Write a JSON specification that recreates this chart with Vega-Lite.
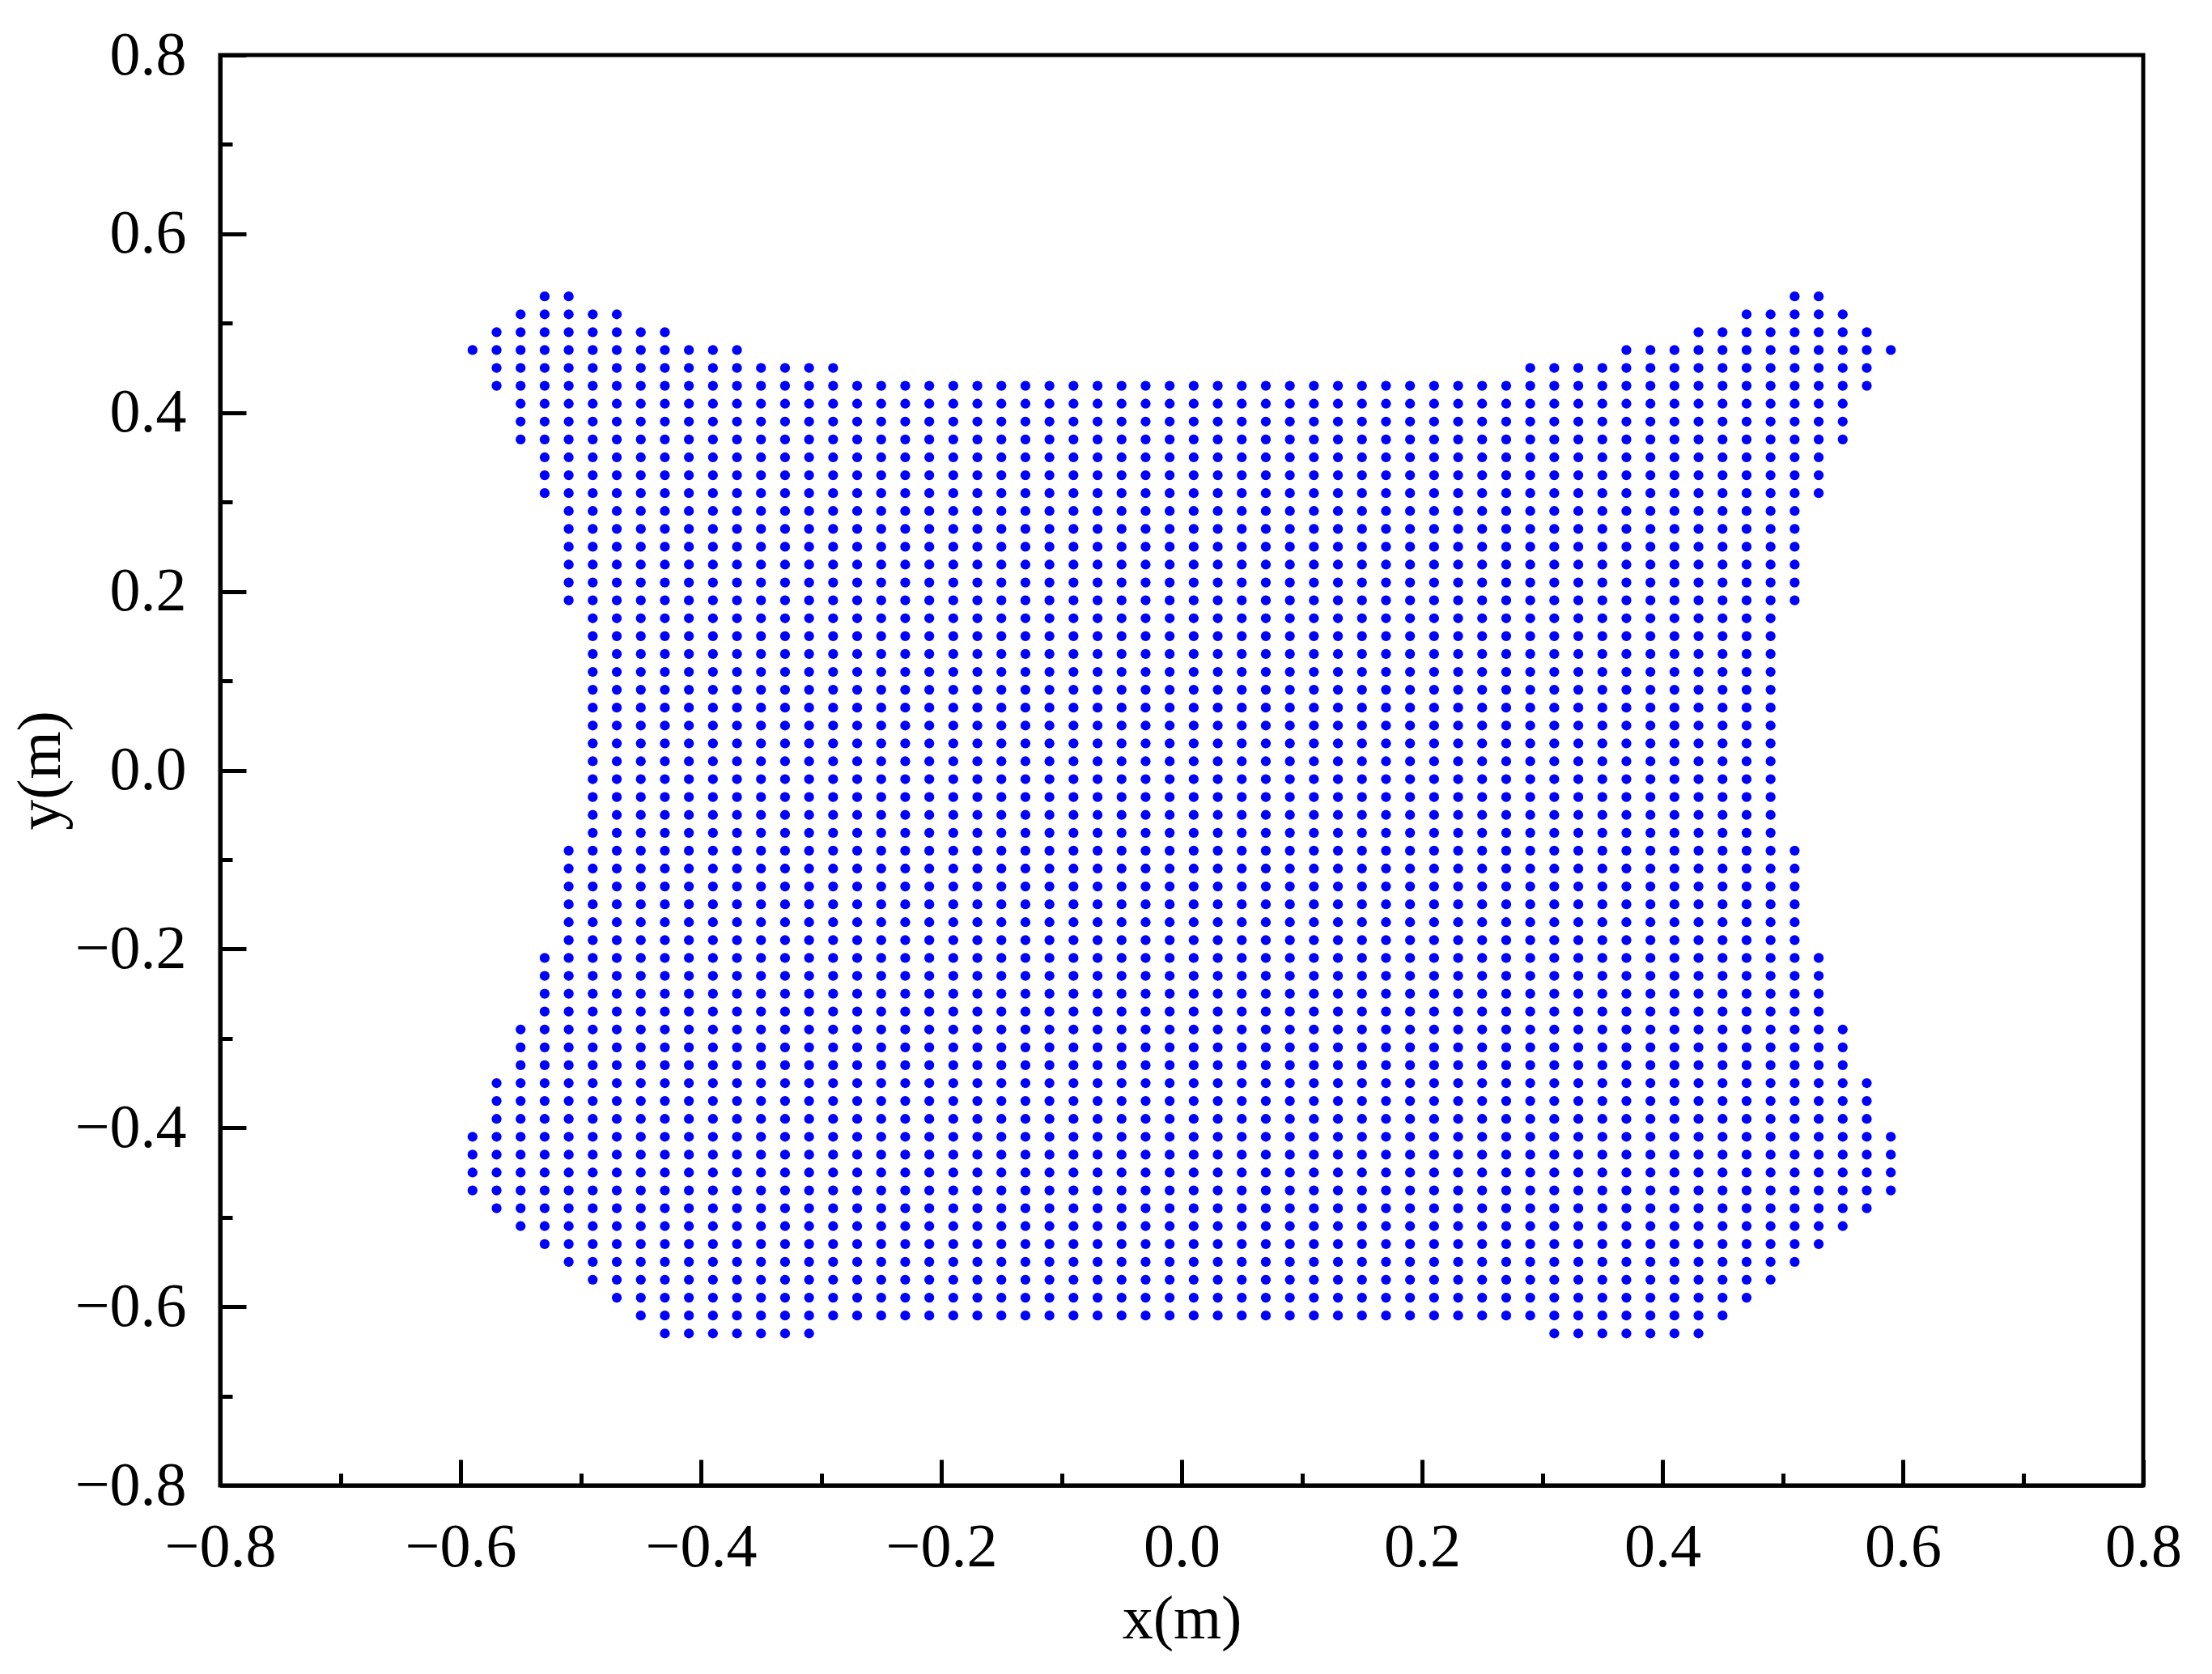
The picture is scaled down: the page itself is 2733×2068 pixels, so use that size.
{
"$schema": "https://vega.github.io/schema/vega-lite/v6.json",
"width": 2376,
"height": 1767,
"autosize": {"type": "none"},
"padding": {"left": 272, "top": 68, "right": 85, "bottom": 233},
"background": "white",
"config": {"view": {"stroke": "black", "strokeWidth": 5}, "font": "Liberation Serif"},
"data": {"values": [
{"x": -0.59, "y": [0.47,-0.41,-0.43,-0.45,-0.47]},
{"x": -0.57, "y": [0.49,0.47,0.45,0.43,-0.35,-0.37,-0.39,-0.41,-0.43,-0.45,-0.47,-0.49]},
{"x": -0.55, "y": [0.51,0.49,0.47,0.45,0.43,0.41,0.39,0.37,-0.29,-0.31,-0.33,-0.35,-0.37,-0.39,-0.41,-0.43,-0.45,-0.47,-0.49,-0.51]},
{"x": -0.53, "y": [0.53,0.51,0.49,0.47,0.45,0.43,0.41,0.39,0.37,0.35,0.33,0.31,-0.21,-0.23,-0.25,-0.27,-0.29,-0.31,-0.33,-0.35,-0.37,-0.39,-0.41,-0.43,-0.45,-0.47,-0.49,-0.51,-0.53]},
{"x": -0.51, "y": [0.53,0.51,0.49,0.47,0.45,0.43,0.41,0.39,0.37,0.35,0.33,0.31,0.29,0.27,0.25,0.23,0.21,0.19,-0.09,-0.11,-0.13,-0.15,-0.17,-0.19,-0.21,-0.23,-0.25,-0.27,-0.29,-0.31,-0.33,-0.35,-0.37,-0.39,-0.41,-0.43,-0.45,-0.47,-0.49,-0.51,-0.53,-0.55]},
{"x": -0.49, "y": [0.51,0.49,0.47,0.45,0.43,0.41,0.39,0.37,0.35,0.33,0.31,0.29,0.27,0.25,0.23,0.21,0.19,0.17,0.15,0.13,0.11,0.09,0.07,0.05,0.03,0.01,-0.01,-0.03,-0.05,-0.07,-0.09,-0.11,-0.13,-0.15,-0.17,-0.19,-0.21,-0.23,-0.25,-0.27,-0.29,-0.31,-0.33,-0.35,-0.37,-0.39,-0.41,-0.43,-0.45,-0.47,-0.49,-0.51,-0.53,-0.55,-0.57]},
{"x": -0.47, "y": [0.51,0.49,0.47,0.45,0.43,0.41,0.39,0.37,0.35,0.33,0.31,0.29,0.27,0.25,0.23,0.21,0.19,0.17,0.15,0.13,0.11,0.09,0.07,0.05,0.03,0.01,-0.01,-0.03,-0.05,-0.07,-0.09,-0.11,-0.13,-0.15,-0.17,-0.19,-0.21,-0.23,-0.25,-0.27,-0.29,-0.31,-0.33,-0.35,-0.37,-0.39,-0.41,-0.43,-0.45,-0.47,-0.49,-0.51,-0.53,-0.55,-0.57,-0.59]},
{"x": -0.45, "y": [0.49,0.47,0.45,0.43,0.41,0.39,0.37,0.35,0.33,0.31,0.29,0.27,0.25,0.23,0.21,0.19,0.17,0.15,0.13,0.11,0.09,0.07,0.05,0.03,0.01,-0.01,-0.03,-0.05,-0.07,-0.09,-0.11,-0.13,-0.15,-0.17,-0.19,-0.21,-0.23,-0.25,-0.27,-0.29,-0.31,-0.33,-0.35,-0.37,-0.39,-0.41,-0.43,-0.45,-0.47,-0.49,-0.51,-0.53,-0.55,-0.57,-0.59,-0.61]},
{"x": -0.43, "y": [0.49,0.47,0.45,0.43,0.41,0.39,0.37,0.35,0.33,0.31,0.29,0.27,0.25,0.23,0.21,0.19,0.17,0.15,0.13,0.11,0.09,0.07,0.05,0.03,0.01,-0.01,-0.03,-0.05,-0.07,-0.09,-0.11,-0.13,-0.15,-0.17,-0.19,-0.21,-0.23,-0.25,-0.27,-0.29,-0.31,-0.33,-0.35,-0.37,-0.39,-0.41,-0.43,-0.45,-0.47,-0.49,-0.51,-0.53,-0.55,-0.57,-0.59,-0.61,-0.63]},
{"x": -0.41, "y": [0.47,0.45,0.43,0.41,0.39,0.37,0.35,0.33,0.31,0.29,0.27,0.25,0.23,0.21,0.19,0.17,0.15,0.13,0.11,0.09,0.07,0.05,0.03,0.01,-0.01,-0.03,-0.05,-0.07,-0.09,-0.11,-0.13,-0.15,-0.17,-0.19,-0.21,-0.23,-0.25,-0.27,-0.29,-0.31,-0.33,-0.35,-0.37,-0.39,-0.41,-0.43,-0.45,-0.47,-0.49,-0.51,-0.53,-0.55,-0.57,-0.59,-0.61,-0.63]},
{"x": -0.39, "y": [0.47,0.45,0.43,0.41,0.39,0.37,0.35,0.33,0.31,0.29,0.27,0.25,0.23,0.21,0.19,0.17,0.15,0.13,0.11,0.09,0.07,0.05,0.03,0.01,-0.01,-0.03,-0.05,-0.07,-0.09,-0.11,-0.13,-0.15,-0.17,-0.19,-0.21,-0.23,-0.25,-0.27,-0.29,-0.31,-0.33,-0.35,-0.37,-0.39,-0.41,-0.43,-0.45,-0.47,-0.49,-0.51,-0.53,-0.55,-0.57,-0.59,-0.61,-0.63]},
{"x": -0.37, "y": [0.47,0.45,0.43,0.41,0.39,0.37,0.35,0.33,0.31,0.29,0.27,0.25,0.23,0.21,0.19,0.17,0.15,0.13,0.11,0.09,0.07,0.05,0.03,0.01,-0.01,-0.03,-0.05,-0.07,-0.09,-0.11,-0.13,-0.15,-0.17,-0.19,-0.21,-0.23,-0.25,-0.27,-0.29,-0.31,-0.33,-0.35,-0.37,-0.39,-0.41,-0.43,-0.45,-0.47,-0.49,-0.51,-0.53,-0.55,-0.57,-0.59,-0.61,-0.63]},
{"x": -0.35, "y": [0.45,0.43,0.41,0.39,0.37,0.35,0.33,0.31,0.29,0.27,0.25,0.23,0.21,0.19,0.17,0.15,0.13,0.11,0.09,0.07,0.05,0.03,0.01,-0.01,-0.03,-0.05,-0.07,-0.09,-0.11,-0.13,-0.15,-0.17,-0.19,-0.21,-0.23,-0.25,-0.27,-0.29,-0.31,-0.33,-0.35,-0.37,-0.39,-0.41,-0.43,-0.45,-0.47,-0.49,-0.51,-0.53,-0.55,-0.57,-0.59,-0.61,-0.63]},
{"x": -0.33, "y": [0.45,0.43,0.41,0.39,0.37,0.35,0.33,0.31,0.29,0.27,0.25,0.23,0.21,0.19,0.17,0.15,0.13,0.11,0.09,0.07,0.05,0.03,0.01,-0.01,-0.03,-0.05,-0.07,-0.09,-0.11,-0.13,-0.15,-0.17,-0.19,-0.21,-0.23,-0.25,-0.27,-0.29,-0.31,-0.33,-0.35,-0.37,-0.39,-0.41,-0.43,-0.45,-0.47,-0.49,-0.51,-0.53,-0.55,-0.57,-0.59,-0.61,-0.63]},
{"x": -0.31, "y": [0.45,0.43,0.41,0.39,0.37,0.35,0.33,0.31,0.29,0.27,0.25,0.23,0.21,0.19,0.17,0.15,0.13,0.11,0.09,0.07,0.05,0.03,0.01,-0.01,-0.03,-0.05,-0.07,-0.09,-0.11,-0.13,-0.15,-0.17,-0.19,-0.21,-0.23,-0.25,-0.27,-0.29,-0.31,-0.33,-0.35,-0.37,-0.39,-0.41,-0.43,-0.45,-0.47,-0.49,-0.51,-0.53,-0.55,-0.57,-0.59,-0.61,-0.63]},
{"x": -0.29, "y": [0.45,0.43,0.41,0.39,0.37,0.35,0.33,0.31,0.29,0.27,0.25,0.23,0.21,0.19,0.17,0.15,0.13,0.11,0.09,0.07,0.05,0.03,0.01,-0.01,-0.03,-0.05,-0.07,-0.09,-0.11,-0.13,-0.15,-0.17,-0.19,-0.21,-0.23,-0.25,-0.27,-0.29,-0.31,-0.33,-0.35,-0.37,-0.39,-0.41,-0.43,-0.45,-0.47,-0.49,-0.51,-0.53,-0.55,-0.57,-0.59,-0.61]},
{"x": -0.27, "y": [0.43,0.41,0.39,0.37,0.35,0.33,0.31,0.29,0.27,0.25,0.23,0.21,0.19,0.17,0.15,0.13,0.11,0.09,0.07,0.05,0.03,0.01,-0.01,-0.03,-0.05,-0.07,-0.09,-0.11,-0.13,-0.15,-0.17,-0.19,-0.21,-0.23,-0.25,-0.27,-0.29,-0.31,-0.33,-0.35,-0.37,-0.39,-0.41,-0.43,-0.45,-0.47,-0.49,-0.51,-0.53,-0.55,-0.57,-0.59,-0.61]},
{"x": -0.25, "y": [0.43,0.41,0.39,0.37,0.35,0.33,0.31,0.29,0.27,0.25,0.23,0.21,0.19,0.17,0.15,0.13,0.11,0.09,0.07,0.05,0.03,0.01,-0.01,-0.03,-0.05,-0.07,-0.09,-0.11,-0.13,-0.15,-0.17,-0.19,-0.21,-0.23,-0.25,-0.27,-0.29,-0.31,-0.33,-0.35,-0.37,-0.39,-0.41,-0.43,-0.45,-0.47,-0.49,-0.51,-0.53,-0.55,-0.57,-0.59,-0.61]},
{"x": -0.23, "y": [0.43,0.41,0.39,0.37,0.35,0.33,0.31,0.29,0.27,0.25,0.23,0.21,0.19,0.17,0.15,0.13,0.11,0.09,0.07,0.05,0.03,0.01,-0.01,-0.03,-0.05,-0.07,-0.09,-0.11,-0.13,-0.15,-0.17,-0.19,-0.21,-0.23,-0.25,-0.27,-0.29,-0.31,-0.33,-0.35,-0.37,-0.39,-0.41,-0.43,-0.45,-0.47,-0.49,-0.51,-0.53,-0.55,-0.57,-0.59,-0.61]},
{"x": -0.21, "y": [0.43,0.41,0.39,0.37,0.35,0.33,0.31,0.29,0.27,0.25,0.23,0.21,0.19,0.17,0.15,0.13,0.11,0.09,0.07,0.05,0.03,0.01,-0.01,-0.03,-0.05,-0.07,-0.09,-0.11,-0.13,-0.15,-0.17,-0.19,-0.21,-0.23,-0.25,-0.27,-0.29,-0.31,-0.33,-0.35,-0.37,-0.39,-0.41,-0.43,-0.45,-0.47,-0.49,-0.51,-0.53,-0.55,-0.57,-0.59,-0.61]},
{"x": -0.19, "y": [0.43,0.41,0.39,0.37,0.35,0.33,0.31,0.29,0.27,0.25,0.23,0.21,0.19,0.17,0.15,0.13,0.11,0.09,0.07,0.05,0.03,0.01,-0.01,-0.03,-0.05,-0.07,-0.09,-0.11,-0.13,-0.15,-0.17,-0.19,-0.21,-0.23,-0.25,-0.27,-0.29,-0.31,-0.33,-0.35,-0.37,-0.39,-0.41,-0.43,-0.45,-0.47,-0.49,-0.51,-0.53,-0.55,-0.57,-0.59,-0.61]},
{"x": -0.17, "y": [0.43,0.41,0.39,0.37,0.35,0.33,0.31,0.29,0.27,0.25,0.23,0.21,0.19,0.17,0.15,0.13,0.11,0.09,0.07,0.05,0.03,0.01,-0.01,-0.03,-0.05,-0.07,-0.09,-0.11,-0.13,-0.15,-0.17,-0.19,-0.21,-0.23,-0.25,-0.27,-0.29,-0.31,-0.33,-0.35,-0.37,-0.39,-0.41,-0.43,-0.45,-0.47,-0.49,-0.51,-0.53,-0.55,-0.57,-0.59,-0.61]},
{"x": -0.15, "y": [0.43,0.41,0.39,0.37,0.35,0.33,0.31,0.29,0.27,0.25,0.23,0.21,0.19,0.17,0.15,0.13,0.11,0.09,0.07,0.05,0.03,0.01,-0.01,-0.03,-0.05,-0.07,-0.09,-0.11,-0.13,-0.15,-0.17,-0.19,-0.21,-0.23,-0.25,-0.27,-0.29,-0.31,-0.33,-0.35,-0.37,-0.39,-0.41,-0.43,-0.45,-0.47,-0.49,-0.51,-0.53,-0.55,-0.57,-0.59,-0.61]},
{"x": -0.13, "y": [0.43,0.41,0.39,0.37,0.35,0.33,0.31,0.29,0.27,0.25,0.23,0.21,0.19,0.17,0.15,0.13,0.11,0.09,0.07,0.05,0.03,0.01,-0.01,-0.03,-0.05,-0.07,-0.09,-0.11,-0.13,-0.15,-0.17,-0.19,-0.21,-0.23,-0.25,-0.27,-0.29,-0.31,-0.33,-0.35,-0.37,-0.39,-0.41,-0.43,-0.45,-0.47,-0.49,-0.51,-0.53,-0.55,-0.57,-0.59,-0.61]},
{"x": -0.11, "y": [0.43,0.41,0.39,0.37,0.35,0.33,0.31,0.29,0.27,0.25,0.23,0.21,0.19,0.17,0.15,0.13,0.11,0.09,0.07,0.05,0.03,0.01,-0.01,-0.03,-0.05,-0.07,-0.09,-0.11,-0.13,-0.15,-0.17,-0.19,-0.21,-0.23,-0.25,-0.27,-0.29,-0.31,-0.33,-0.35,-0.37,-0.39,-0.41,-0.43,-0.45,-0.47,-0.49,-0.51,-0.53,-0.55,-0.57,-0.59,-0.61]},
{"x": -0.09, "y": [0.43,0.41,0.39,0.37,0.35,0.33,0.31,0.29,0.27,0.25,0.23,0.21,0.19,0.17,0.15,0.13,0.11,0.09,0.07,0.05,0.03,0.01,-0.01,-0.03,-0.05,-0.07,-0.09,-0.11,-0.13,-0.15,-0.17,-0.19,-0.21,-0.23,-0.25,-0.27,-0.29,-0.31,-0.33,-0.35,-0.37,-0.39,-0.41,-0.43,-0.45,-0.47,-0.49,-0.51,-0.53,-0.55,-0.57,-0.59,-0.61]},
{"x": -0.07, "y": [0.43,0.41,0.39,0.37,0.35,0.33,0.31,0.29,0.27,0.25,0.23,0.21,0.19,0.17,0.15,0.13,0.11,0.09,0.07,0.05,0.03,0.01,-0.01,-0.03,-0.05,-0.07,-0.09,-0.11,-0.13,-0.15,-0.17,-0.19,-0.21,-0.23,-0.25,-0.27,-0.29,-0.31,-0.33,-0.35,-0.37,-0.39,-0.41,-0.43,-0.45,-0.47,-0.49,-0.51,-0.53,-0.55,-0.57,-0.59,-0.61]},
{"x": -0.05, "y": [0.43,0.41,0.39,0.37,0.35,0.33,0.31,0.29,0.27,0.25,0.23,0.21,0.19,0.17,0.15,0.13,0.11,0.09,0.07,0.05,0.03,0.01,-0.01,-0.03,-0.05,-0.07,-0.09,-0.11,-0.13,-0.15,-0.17,-0.19,-0.21,-0.23,-0.25,-0.27,-0.29,-0.31,-0.33,-0.35,-0.37,-0.39,-0.41,-0.43,-0.45,-0.47,-0.49,-0.51,-0.53,-0.55,-0.57,-0.59,-0.61]},
{"x": -0.03, "y": [0.43,0.41,0.39,0.37,0.35,0.33,0.31,0.29,0.27,0.25,0.23,0.21,0.19,0.17,0.15,0.13,0.11,0.09,0.07,0.05,0.03,0.01,-0.01,-0.03,-0.05,-0.07,-0.09,-0.11,-0.13,-0.15,-0.17,-0.19,-0.21,-0.23,-0.25,-0.27,-0.29,-0.31,-0.33,-0.35,-0.37,-0.39,-0.41,-0.43,-0.45,-0.47,-0.49,-0.51,-0.53,-0.55,-0.57,-0.59,-0.61]},
{"x": -0.01, "y": [0.43,0.41,0.39,0.37,0.35,0.33,0.31,0.29,0.27,0.25,0.23,0.21,0.19,0.17,0.15,0.13,0.11,0.09,0.07,0.05,0.03,0.01,-0.01,-0.03,-0.05,-0.07,-0.09,-0.11,-0.13,-0.15,-0.17,-0.19,-0.21,-0.23,-0.25,-0.27,-0.29,-0.31,-0.33,-0.35,-0.37,-0.39,-0.41,-0.43,-0.45,-0.47,-0.49,-0.51,-0.53,-0.55,-0.57,-0.59,-0.61]},
{"x": 0.01, "y": [0.43,0.41,0.39,0.37,0.35,0.33,0.31,0.29,0.27,0.25,0.23,0.21,0.19,0.17,0.15,0.13,0.11,0.09,0.07,0.05,0.03,0.01,-0.01,-0.03,-0.05,-0.07,-0.09,-0.11,-0.13,-0.15,-0.17,-0.19,-0.21,-0.23,-0.25,-0.27,-0.29,-0.31,-0.33,-0.35,-0.37,-0.39,-0.41,-0.43,-0.45,-0.47,-0.49,-0.51,-0.53,-0.55,-0.57,-0.59,-0.61]},
{"x": 0.03, "y": [0.43,0.41,0.39,0.37,0.35,0.33,0.31,0.29,0.27,0.25,0.23,0.21,0.19,0.17,0.15,0.13,0.11,0.09,0.07,0.05,0.03,0.01,-0.01,-0.03,-0.05,-0.07,-0.09,-0.11,-0.13,-0.15,-0.17,-0.19,-0.21,-0.23,-0.25,-0.27,-0.29,-0.31,-0.33,-0.35,-0.37,-0.39,-0.41,-0.43,-0.45,-0.47,-0.49,-0.51,-0.53,-0.55,-0.57,-0.59,-0.61]},
{"x": 0.05, "y": [0.43,0.41,0.39,0.37,0.35,0.33,0.31,0.29,0.27,0.25,0.23,0.21,0.19,0.17,0.15,0.13,0.11,0.09,0.07,0.05,0.03,0.01,-0.01,-0.03,-0.05,-0.07,-0.09,-0.11,-0.13,-0.15,-0.17,-0.19,-0.21,-0.23,-0.25,-0.27,-0.29,-0.31,-0.33,-0.35,-0.37,-0.39,-0.41,-0.43,-0.45,-0.47,-0.49,-0.51,-0.53,-0.55,-0.57,-0.59,-0.61]},
{"x": 0.07, "y": [0.43,0.41,0.39,0.37,0.35,0.33,0.31,0.29,0.27,0.25,0.23,0.21,0.19,0.17,0.15,0.13,0.11,0.09,0.07,0.05,0.03,0.01,-0.01,-0.03,-0.05,-0.07,-0.09,-0.11,-0.13,-0.15,-0.17,-0.19,-0.21,-0.23,-0.25,-0.27,-0.29,-0.31,-0.33,-0.35,-0.37,-0.39,-0.41,-0.43,-0.45,-0.47,-0.49,-0.51,-0.53,-0.55,-0.57,-0.59,-0.61]},
{"x": 0.09, "y": [0.43,0.41,0.39,0.37,0.35,0.33,0.31,0.29,0.27,0.25,0.23,0.21,0.19,0.17,0.15,0.13,0.11,0.09,0.07,0.05,0.03,0.01,-0.01,-0.03,-0.05,-0.07,-0.09,-0.11,-0.13,-0.15,-0.17,-0.19,-0.21,-0.23,-0.25,-0.27,-0.29,-0.31,-0.33,-0.35,-0.37,-0.39,-0.41,-0.43,-0.45,-0.47,-0.49,-0.51,-0.53,-0.55,-0.57,-0.59,-0.61]},
{"x": 0.11, "y": [0.43,0.41,0.39,0.37,0.35,0.33,0.31,0.29,0.27,0.25,0.23,0.21,0.19,0.17,0.15,0.13,0.11,0.09,0.07,0.05,0.03,0.01,-0.01,-0.03,-0.05,-0.07,-0.09,-0.11,-0.13,-0.15,-0.17,-0.19,-0.21,-0.23,-0.25,-0.27,-0.29,-0.31,-0.33,-0.35,-0.37,-0.39,-0.41,-0.43,-0.45,-0.47,-0.49,-0.51,-0.53,-0.55,-0.57,-0.59,-0.61]},
{"x": 0.13, "y": [0.43,0.41,0.39,0.37,0.35,0.33,0.31,0.29,0.27,0.25,0.23,0.21,0.19,0.17,0.15,0.13,0.11,0.09,0.07,0.05,0.03,0.01,-0.01,-0.03,-0.05,-0.07,-0.09,-0.11,-0.13,-0.15,-0.17,-0.19,-0.21,-0.23,-0.25,-0.27,-0.29,-0.31,-0.33,-0.35,-0.37,-0.39,-0.41,-0.43,-0.45,-0.47,-0.49,-0.51,-0.53,-0.55,-0.57,-0.59,-0.61]},
{"x": 0.15, "y": [0.43,0.41,0.39,0.37,0.35,0.33,0.31,0.29,0.27,0.25,0.23,0.21,0.19,0.17,0.15,0.13,0.11,0.09,0.07,0.05,0.03,0.01,-0.01,-0.03,-0.05,-0.07,-0.09,-0.11,-0.13,-0.15,-0.17,-0.19,-0.21,-0.23,-0.25,-0.27,-0.29,-0.31,-0.33,-0.35,-0.37,-0.39,-0.41,-0.43,-0.45,-0.47,-0.49,-0.51,-0.53,-0.55,-0.57,-0.59,-0.61]},
{"x": 0.17, "y": [0.43,0.41,0.39,0.37,0.35,0.33,0.31,0.29,0.27,0.25,0.23,0.21,0.19,0.17,0.15,0.13,0.11,0.09,0.07,0.05,0.03,0.01,-0.01,-0.03,-0.05,-0.07,-0.09,-0.11,-0.13,-0.15,-0.17,-0.19,-0.21,-0.23,-0.25,-0.27,-0.29,-0.31,-0.33,-0.35,-0.37,-0.39,-0.41,-0.43,-0.45,-0.47,-0.49,-0.51,-0.53,-0.55,-0.57,-0.59,-0.61]},
{"x": 0.19, "y": [0.43,0.41,0.39,0.37,0.35,0.33,0.31,0.29,0.27,0.25,0.23,0.21,0.19,0.17,0.15,0.13,0.11,0.09,0.07,0.05,0.03,0.01,-0.01,-0.03,-0.05,-0.07,-0.09,-0.11,-0.13,-0.15,-0.17,-0.19,-0.21,-0.23,-0.25,-0.27,-0.29,-0.31,-0.33,-0.35,-0.37,-0.39,-0.41,-0.43,-0.45,-0.47,-0.49,-0.51,-0.53,-0.55,-0.57,-0.59,-0.61]},
{"x": 0.21, "y": [0.43,0.41,0.39,0.37,0.35,0.33,0.31,0.29,0.27,0.25,0.23,0.21,0.19,0.17,0.15,0.13,0.11,0.09,0.07,0.05,0.03,0.01,-0.01,-0.03,-0.05,-0.07,-0.09,-0.11,-0.13,-0.15,-0.17,-0.19,-0.21,-0.23,-0.25,-0.27,-0.29,-0.31,-0.33,-0.35,-0.37,-0.39,-0.41,-0.43,-0.45,-0.47,-0.49,-0.51,-0.53,-0.55,-0.57,-0.59,-0.61]},
{"x": 0.23, "y": [0.43,0.41,0.39,0.37,0.35,0.33,0.31,0.29,0.27,0.25,0.23,0.21,0.19,0.17,0.15,0.13,0.11,0.09,0.07,0.05,0.03,0.01,-0.01,-0.03,-0.05,-0.07,-0.09,-0.11,-0.13,-0.15,-0.17,-0.19,-0.21,-0.23,-0.25,-0.27,-0.29,-0.31,-0.33,-0.35,-0.37,-0.39,-0.41,-0.43,-0.45,-0.47,-0.49,-0.51,-0.53,-0.55,-0.57,-0.59,-0.61]},
{"x": 0.25, "y": [0.43,0.41,0.39,0.37,0.35,0.33,0.31,0.29,0.27,0.25,0.23,0.21,0.19,0.17,0.15,0.13,0.11,0.09,0.07,0.05,0.03,0.01,-0.01,-0.03,-0.05,-0.07,-0.09,-0.11,-0.13,-0.15,-0.17,-0.19,-0.21,-0.23,-0.25,-0.27,-0.29,-0.31,-0.33,-0.35,-0.37,-0.39,-0.41,-0.43,-0.45,-0.47,-0.49,-0.51,-0.53,-0.55,-0.57,-0.59,-0.61]},
{"x": 0.27, "y": [0.43,0.41,0.39,0.37,0.35,0.33,0.31,0.29,0.27,0.25,0.23,0.21,0.19,0.17,0.15,0.13,0.11,0.09,0.07,0.05,0.03,0.01,-0.01,-0.03,-0.05,-0.07,-0.09,-0.11,-0.13,-0.15,-0.17,-0.19,-0.21,-0.23,-0.25,-0.27,-0.29,-0.31,-0.33,-0.35,-0.37,-0.39,-0.41,-0.43,-0.45,-0.47,-0.49,-0.51,-0.53,-0.55,-0.57,-0.59,-0.61]},
{"x": 0.29, "y": [0.45,0.43,0.41,0.39,0.37,0.35,0.33,0.31,0.29,0.27,0.25,0.23,0.21,0.19,0.17,0.15,0.13,0.11,0.09,0.07,0.05,0.03,0.01,-0.01,-0.03,-0.05,-0.07,-0.09,-0.11,-0.13,-0.15,-0.17,-0.19,-0.21,-0.23,-0.25,-0.27,-0.29,-0.31,-0.33,-0.35,-0.37,-0.39,-0.41,-0.43,-0.45,-0.47,-0.49,-0.51,-0.53,-0.55,-0.57,-0.59,-0.61]},
{"x": 0.31, "y": [0.45,0.43,0.41,0.39,0.37,0.35,0.33,0.31,0.29,0.27,0.25,0.23,0.21,0.19,0.17,0.15,0.13,0.11,0.09,0.07,0.05,0.03,0.01,-0.01,-0.03,-0.05,-0.07,-0.09,-0.11,-0.13,-0.15,-0.17,-0.19,-0.21,-0.23,-0.25,-0.27,-0.29,-0.31,-0.33,-0.35,-0.37,-0.39,-0.41,-0.43,-0.45,-0.47,-0.49,-0.51,-0.53,-0.55,-0.57,-0.59,-0.61,-0.63]},
{"x": 0.33, "y": [0.45,0.43,0.41,0.39,0.37,0.35,0.33,0.31,0.29,0.27,0.25,0.23,0.21,0.19,0.17,0.15,0.13,0.11,0.09,0.07,0.05,0.03,0.01,-0.01,-0.03,-0.05,-0.07,-0.09,-0.11,-0.13,-0.15,-0.17,-0.19,-0.21,-0.23,-0.25,-0.27,-0.29,-0.31,-0.33,-0.35,-0.37,-0.39,-0.41,-0.43,-0.45,-0.47,-0.49,-0.51,-0.53,-0.55,-0.57,-0.59,-0.61,-0.63]},
{"x": 0.35, "y": [0.45,0.43,0.41,0.39,0.37,0.35,0.33,0.31,0.29,0.27,0.25,0.23,0.21,0.19,0.17,0.15,0.13,0.11,0.09,0.07,0.05,0.03,0.01,-0.01,-0.03,-0.05,-0.07,-0.09,-0.11,-0.13,-0.15,-0.17,-0.19,-0.21,-0.23,-0.25,-0.27,-0.29,-0.31,-0.33,-0.35,-0.37,-0.39,-0.41,-0.43,-0.45,-0.47,-0.49,-0.51,-0.53,-0.55,-0.57,-0.59,-0.61,-0.63]},
{"x": 0.37, "y": [0.47,0.45,0.43,0.41,0.39,0.37,0.35,0.33,0.31,0.29,0.27,0.25,0.23,0.21,0.19,0.17,0.15,0.13,0.11,0.09,0.07,0.05,0.03,0.01,-0.01,-0.03,-0.05,-0.07,-0.09,-0.11,-0.13,-0.15,-0.17,-0.19,-0.21,-0.23,-0.25,-0.27,-0.29,-0.31,-0.33,-0.35,-0.37,-0.39,-0.41,-0.43,-0.45,-0.47,-0.49,-0.51,-0.53,-0.55,-0.57,-0.59,-0.61,-0.63]},
{"x": 0.39, "y": [0.47,0.45,0.43,0.41,0.39,0.37,0.35,0.33,0.31,0.29,0.27,0.25,0.23,0.21,0.19,0.17,0.15,0.13,0.11,0.09,0.07,0.05,0.03,0.01,-0.01,-0.03,-0.05,-0.07,-0.09,-0.11,-0.13,-0.15,-0.17,-0.19,-0.21,-0.23,-0.25,-0.27,-0.29,-0.31,-0.33,-0.35,-0.37,-0.39,-0.41,-0.43,-0.45,-0.47,-0.49,-0.51,-0.53,-0.55,-0.57,-0.59,-0.61,-0.63]},
{"x": 0.41, "y": [0.47,0.45,0.43,0.41,0.39,0.37,0.35,0.33,0.31,0.29,0.27,0.25,0.23,0.21,0.19,0.17,0.15,0.13,0.11,0.09,0.07,0.05,0.03,0.01,-0.01,-0.03,-0.05,-0.07,-0.09,-0.11,-0.13,-0.15,-0.17,-0.19,-0.21,-0.23,-0.25,-0.27,-0.29,-0.31,-0.33,-0.35,-0.37,-0.39,-0.41,-0.43,-0.45,-0.47,-0.49,-0.51,-0.53,-0.55,-0.57,-0.59,-0.61,-0.63]},
{"x": 0.43, "y": [0.49,0.47,0.45,0.43,0.41,0.39,0.37,0.35,0.33,0.31,0.29,0.27,0.25,0.23,0.21,0.19,0.17,0.15,0.13,0.11,0.09,0.07,0.05,0.03,0.01,-0.01,-0.03,-0.05,-0.07,-0.09,-0.11,-0.13,-0.15,-0.17,-0.19,-0.21,-0.23,-0.25,-0.27,-0.29,-0.31,-0.33,-0.35,-0.37,-0.39,-0.41,-0.43,-0.45,-0.47,-0.49,-0.51,-0.53,-0.55,-0.57,-0.59,-0.61,-0.63]},
{"x": 0.45, "y": [0.49,0.47,0.45,0.43,0.41,0.39,0.37,0.35,0.33,0.31,0.29,0.27,0.25,0.23,0.21,0.19,0.17,0.15,0.13,0.11,0.09,0.07,0.05,0.03,0.01,-0.01,-0.03,-0.05,-0.07,-0.09,-0.11,-0.13,-0.15,-0.17,-0.19,-0.21,-0.23,-0.25,-0.27,-0.29,-0.31,-0.33,-0.35,-0.37,-0.39,-0.41,-0.43,-0.45,-0.47,-0.49,-0.51,-0.53,-0.55,-0.57,-0.59,-0.61]},
{"x": 0.47, "y": [0.51,0.49,0.47,0.45,0.43,0.41,0.39,0.37,0.35,0.33,0.31,0.29,0.27,0.25,0.23,0.21,0.19,0.17,0.15,0.13,0.11,0.09,0.07,0.05,0.03,0.01,-0.01,-0.03,-0.05,-0.07,-0.09,-0.11,-0.13,-0.15,-0.17,-0.19,-0.21,-0.23,-0.25,-0.27,-0.29,-0.31,-0.33,-0.35,-0.37,-0.39,-0.41,-0.43,-0.45,-0.47,-0.49,-0.51,-0.53,-0.55,-0.57,-0.59]},
{"x": 0.49, "y": [0.51,0.49,0.47,0.45,0.43,0.41,0.39,0.37,0.35,0.33,0.31,0.29,0.27,0.25,0.23,0.21,0.19,0.17,0.15,0.13,0.11,0.09,0.07,0.05,0.03,0.01,-0.01,-0.03,-0.05,-0.07,-0.09,-0.11,-0.13,-0.15,-0.17,-0.19,-0.21,-0.23,-0.25,-0.27,-0.29,-0.31,-0.33,-0.35,-0.37,-0.39,-0.41,-0.43,-0.45,-0.47,-0.49,-0.51,-0.53,-0.55,-0.57]},
{"x": 0.51, "y": [0.53,0.51,0.49,0.47,0.45,0.43,0.41,0.39,0.37,0.35,0.33,0.31,0.29,0.27,0.25,0.23,0.21,0.19,-0.09,-0.11,-0.13,-0.15,-0.17,-0.19,-0.21,-0.23,-0.25,-0.27,-0.29,-0.31,-0.33,-0.35,-0.37,-0.39,-0.41,-0.43,-0.45,-0.47,-0.49,-0.51,-0.53,-0.55]},
{"x": 0.53, "y": [0.53,0.51,0.49,0.47,0.45,0.43,0.41,0.39,0.37,0.35,0.33,0.31,-0.21,-0.23,-0.25,-0.27,-0.29,-0.31,-0.33,-0.35,-0.37,-0.39,-0.41,-0.43,-0.45,-0.47,-0.49,-0.51,-0.53]},
{"x": 0.55, "y": [0.51,0.49,0.47,0.45,0.43,0.41,0.39,0.37,-0.29,-0.31,-0.33,-0.35,-0.37,-0.39,-0.41,-0.43,-0.45,-0.47,-0.49,-0.51]},
{"x": 0.57, "y": [0.49,0.47,0.45,0.43,-0.35,-0.37,-0.39,-0.41,-0.43,-0.45,-0.47,-0.49]},
{"x": 0.59, "y": [0.47,-0.41,-0.43,-0.45,-0.47]}
]},
"transform": [{"flatten": ["y"]}],
"mark": {"type": "point", "filled": true, "shape": "circle", "size": 150, "color": "#0000ff", "opacity": 1, "strokeWidth": 0},
"encoding": {
"x": {"field": "x", "type": "quantitative",
 "scale": {"domain": [-0.8, 0.8], "nice": false, "zero": false},
 "axis": {"title": "x(m)", "values": [-0.8,-0.7,-0.6,-0.5,-0.4,-0.3,-0.2,-0.1,0,0.1,0.2,0.3,0.4,0.5,0.6,0.7,0.8],
  "format": ".1f",
  "labelExpr": "abs(round(datum.value*10)) % 2 == 0 ? datum.label : ''",
  "tickSize": {"condition": {"test": "abs(round(datum.value*10)) % 2 == 0", "value": -32}, "value": -15},
  "tickWidth": 5, "tickColor": "black", "domainColor": "black", "domainWidth": 5, "grid": false,
  "labelFont": "Liberation Serif", "labelFontSize": 76, "labelColor": "black", "labelPadding": 71,
  "labelFlush": false, "labelOverlap": false, "labelBound": false,
  "titleFont": "Liberation Serif", "titleFontSize": 76, "titleFontWeight": "normal", "titleColor": "black", "titlePadding": -3}},
"y": {"field": "y", "type": "quantitative",
 "scale": {"domain": [-0.8, 0.8], "nice": false, "zero": false},
 "axis": {"title": "y(m)", "values": [-0.8,-0.7,-0.6,-0.5,-0.4,-0.3,-0.2,-0.1,0,0.1,0.2,0.3,0.4,0.5,0.6,0.7,0.8],
  "format": ".1f",
  "labelExpr": "abs(round(datum.value*10)) % 2 == 0 ? datum.label : ''",
  "tickSize": {"condition": {"test": "abs(round(datum.value*10)) % 2 == 0", "value": -32}, "value": -15},
  "tickWidth": 5, "tickColor": "black", "domainColor": "black", "domainWidth": 5, "grid": false,
  "labelFont": "Liberation Serif", "labelFontSize": 76, "labelColor": "black", "labelPadding": 74,
  "labelFlush": false, "labelOverlap": false, "labelBound": false,
  "titleFont": "Liberation Serif", "titleFontSize": 76, "titleFontWeight": "normal", "titleColor": "black", "titlePadding": 3}}
}
}
